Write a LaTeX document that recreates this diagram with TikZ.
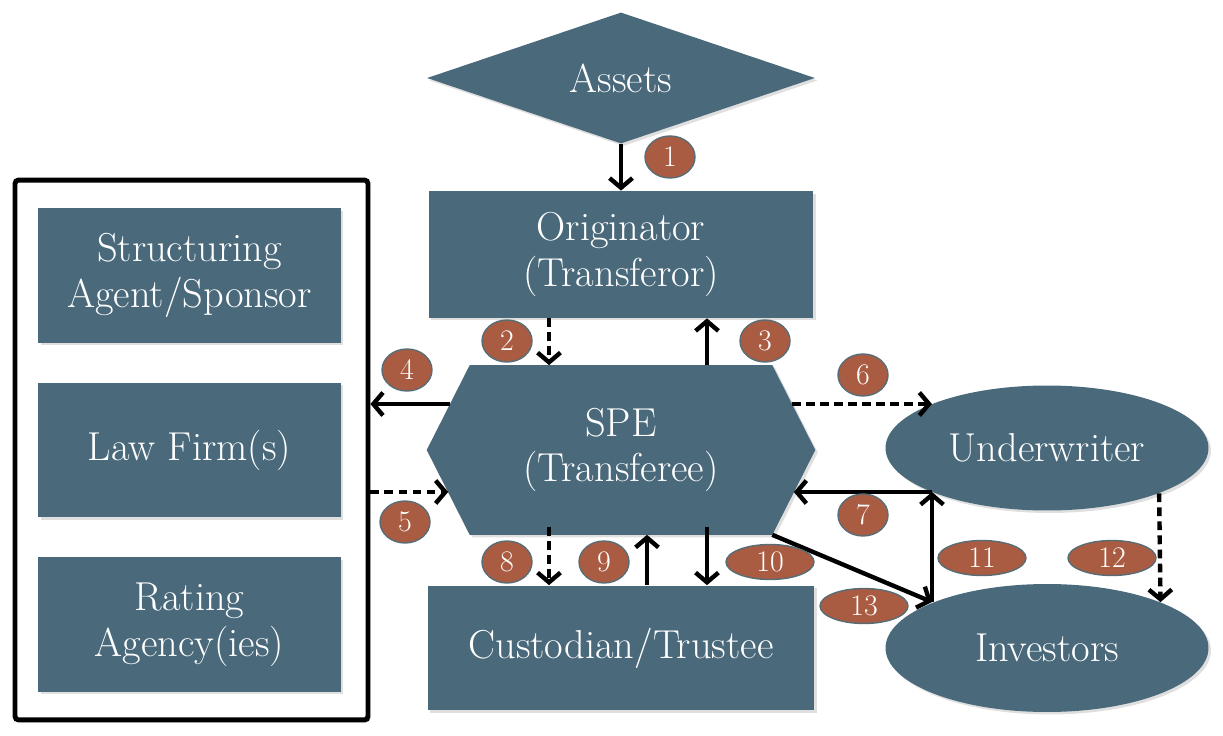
\documentclass[tikz,border=0pt]{standalone}
\usetikzlibrary{arrows.meta,shapes.geometric,shadows,backgrounds}
\definecolor{slate}{RGB}{74,106,124}
\definecolor{rust}{RGB}{169,92,66}
\definecolor{rim}{RGB}{88,108,118}

\begin{document}
\begin{tikzpicture}[x=0.02cm,y=-0.02cm,
            soft/.style={drop shadow={opacity=0.25,shadow xshift=0.05cm,shadow yshift=-0.05cm}},
            box/.style={fill=slate,text=white,align=center,font=\fontsize{23}{26}\selectfont,soft},
            badge/.style={ellipse,fill=rust,draw=rim,line width=0.8pt,text=white,font=\fontsize{17}{18}\selectfont,inner sep=0pt,minimum width=1cm,minimum height=0.84cm},
            wide/.style={minimum width=1.76cm,minimum height=0.7cm},
            flow/.style={line width=2.5pt,-{Straight Barb[length=5.5pt,width=13pt]}},
            flowdash/.style={flow,dash pattern=on 5pt off 3pt}]
            \useasboundingbox (0,0) rectangle (1223,736);
            \node[box,diamond,inner sep=0pt,minimum width=7.76cm,minimum height=2.52cm] (assets) at (621,78) {Assets};
            \node[box,minimum width=7.7cm,minimum height=2.54cm] (orig) at (621,254.5) {Originator\\(Transferor)};
            \node[text=white,align=center,font=\fontsize{23}{26}\selectfont,minimum width=7.76cm,minimum height=3.38cm] (spe) at (621,450) {SPE\\(Transferee)};
            \begin{scope}[on background layer]
                \fill[slate,soft] ([xshift=0.86cm]spe.north west) -- ([xshift=-0.86cm]spe.north east) -- (spe.east) -- ([xshift=-0.86cm]spe.south east) -- ([xshift=0.86cm]spe.south west) -- (spe.west) -- cycle;
            \end{scope}
            \node[box,minimum width=7.74cm,minimum height=2.5cm] (cust) at (621,648) {Custodian/Trustee};
            \node[box,ellipse,minimum width=6.46cm,minimum height=2.5cm] (under) at (1047,448) {Underwriter};
            \node[box,ellipse,minimum width=6.46cm,minimum height=2.56cm] (inv) at (1047,648) {Investors};
            \node[draw,fill=white,line width=2.8pt,rounded corners=2pt,minimum width=7.06cm,minimum height=10.8cm,soft] (panel) at (191.5,450) {};
            \node[box,minimum width=6.06cm,minimum height=2.7cm] (sponsor) at (189.5,275.5) {Structuring\\Agent/Sponsor};
            \node[box,minimum width=6.06cm,minimum height=2.7cm] (law) at (189.5,450) {Law Firm(s)};
            \node[box,minimum width=6.06cm,minimum height=2.7cm] (rating) at (189.5,624.5) {Rating\\Agency(ies)};
            \coordinate (hub) at (932,492);
            \coordinate (foot) at (932,602);
            \draw[flow] (assets.south) -- (orig.north);
            \draw[flowdash] ([xshift=-1.44cm]orig.south) -- ([xshift=-1.44cm]spe.north);
            \draw[flow] ([xshift=1.72cm]spe.north) -- ([xshift=1.72cm]orig.south);
            \draw[flow] ([xshift=0.47cm,yshift=0.92cm]spe.west) -- ([yshift=0.92cm]spe.west -| panel.east);
            \draw[flowdash] ([yshift=-0.84cm]spe.west -| panel.east) -- ([xshift=0.43cm,yshift=-0.84cm]spe.west);
            \draw[flowdash] ([xshift=-0.47cm,yshift=0.92cm]spe.east) -- ([yshift=0.92cm]spe.east -| under.159);
            \draw[flow] (hub) -- ([xshift=-0.43cm]spe.east |- hub);
            \draw[flow] (foot) -- (hub);
            \draw[flow] ([xshift=-0.86cm]spe.south east) -- (foot);
            \draw[flowdash] (under.-22) -- (inv.22);
            \draw[flowdash] ([xshift=-1.44cm,yshift=0.16cm]spe.south) -- ([xshift=-1.44cm]cust.north);
            \draw[flow] ([xshift=0.52cm]cust.north) -- ([xshift=0.52cm]spe.south);
            \draw[flow] ([xshift=1.72cm,yshift=0.16cm]spe.south) -- ([xshift=1.72cm]cust.north);
            \node[badge] (b1) at (670,157) {1};
            \node[badge] (b2) at (507,341) {2};
            \node[badge] (b3) at (765,341) {3};
            \node[badge] (b4) at (407,370) {4};
            \node[badge] (b5) at (405,522) {5};
            \node[badge] (b6) at (863,375) {6};
            \node[badge] (b7) at (863,515) {7};
            \node[badge] (b8) at (507,562) {8};
            \node[badge] (b9) at (604,562) {9};
            \node[badge,wide] (b10) at (770,562) {10};
            \node[badge,wide] (b11) at (982,558) {11};
            \node[badge,wide] (b12) at (1112,558) {12};
            \node[badge,wide] (b13) at (864,606) {13};
        \end{tikzpicture}
\end{document}
